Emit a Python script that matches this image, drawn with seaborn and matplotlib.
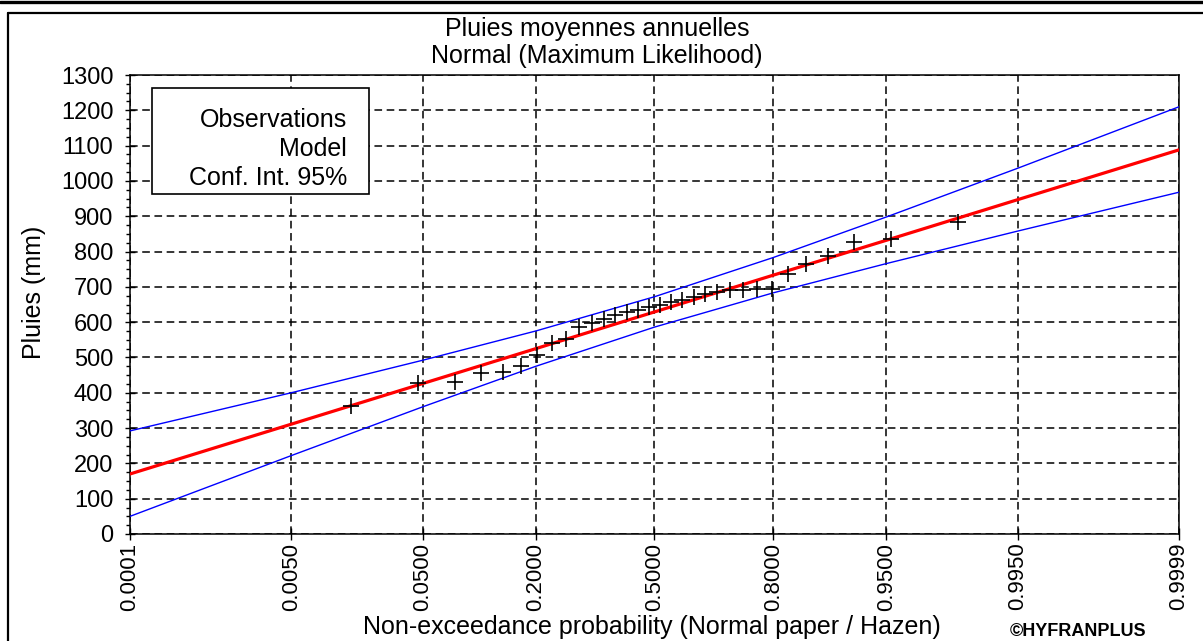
import numpy as np
import matplotlib
matplotlib.use("Agg")
import matplotlib.pyplot as plt
from matplotlib.lines import Line2D
from matplotlib.patches import Rectangle
from matplotlib.ticker import FixedLocator, FixedFormatter, MultipleLocator, NullLocator
import seaborn as sns
from statistics import NormalDist

# ---------------------------------------------------------------- data
# Sorted annual mean rainfall sample (mm)
obs_rain = [362, 427, 431, 455, 458, 475, 508, 540, 553, 587, 597, 610,
            620, 629, 635, 644, 650, 657, 664, 672, 680, 686, 690, 692,
            694, 695, 737, 766, 788, 828, 835, 885]
# Hazen non-exceedance probabilities of the sorted sample (n = 32)
obs_prob = [0.0156, 0.0469, 0.0781, 0.1094, 0.1406, 0.1719, 0.2031, 0.2344,
            0.2656, 0.2969, 0.3281, 0.3594, 0.3906, 0.4219, 0.4531, 0.4844,
            0.5156, 0.5469, 0.5781, 0.6094, 0.6406, 0.6719, 0.7031, 0.7344,
            0.7656, 0.7969, 0.8281, 0.8594, 0.8906, 0.9219, 0.9531, 0.9844]

# Fitted normal quantiles and 95 % confidence bounds (mm)
curve_prob = [0.0001, 0.005, 0.05, 0.2, 0.5, 0.8, 0.95, 0.995, 0.9999]
model_rain = [170, 311, 426, 525, 629, 733, 832, 947, 1088]
upper_rain = [292, 400, 492, 575, 672, 783, 898, 1036, 1210]
lower_rain = [50, 222, 360, 475, 586, 683, 766, 858, 968]

x_ticks = [0.0001, 0.0050, 0.0500, 0.2000, 0.5000, 0.8000, 0.9500, 0.9950, 0.9999]
x_tick_labels = ["0.0001", "0.0050", "0.0500", "0.2000", "0.5000",
                 "0.8000", "0.9500", "0.9950", "0.9999"]
y_ticks = list(range(0, 1301, 100))

title_lines = ["Pluies moyennes annuelles", "Normal (Maximum Likelihood)"]
legend_labels = ["Observations", "Model", "Conf. Int. 95%"]
x_label = "Non-exceedance probability (Normal paper / Hazen)"
y_label = "Pluies (mm)"
credit = "\u00a9HYFRANPLUS"

# ------------------------------------------------- normal probability scale
_nd = NormalDist()


def prob_to_z(p):
    p = np.asarray(p, dtype=float)
    flat = p.ravel()
    out = np.array([_nd.inv_cdf(min(max(v, 1e-12), 1 - 1e-12))
                    if not np.isnan(v) else np.nan for v in flat], dtype=float)
    return out.reshape(p.shape)


def z_to_prob(z):
    z = np.asarray(z, dtype=float)
    flat = z.ravel()
    out = np.array([_nd.cdf(v) if not np.isnan(v) else np.nan for v in flat],
                   dtype=float)
    return out.reshape(z.shape)


# ------------------------------------------------------------- styling
sns.set_theme(style="ticks")
plt.rcParams["font.family"] = ["Liberation Sans", "DejaVu Sans"]
plt.rcParams["text.color"] = "black"
plt.rcParams["axes.labelcolor"] = "black"
plt.rcParams["xtick.color"] = "black"
plt.rcParams["ytick.color"] = "black"

W_PX, H_PX = 1203, 641
fig = plt.figure(figsize=(W_PX / 100, H_PX / 100), dpi=100)
fig.patch.set_facecolor("white")

ax_l, ax_r, ax_t, ax_b = 130, 1179, 75, 534
ax = fig.add_axes([ax_l / W_PX, 1 - ax_b / H_PX,
                   (ax_r - ax_l) / W_PX, (ax_b - ax_t) / H_PX])
ax.set_facecolor("white")

# --------------------------------------------------------------- marks
sns.lineplot(x=curve_prob, y=upper_rain, color="blue", lw=1.0, ax=ax,
             estimator=None, sort=False, zorder=3)
sns.lineplot(x=curve_prob, y=lower_rain, color="blue", lw=1.0, ax=ax,
             estimator=None, sort=False, zorder=3)
sns.lineplot(x=curve_prob, y=model_rain, color="red", lw=2.3, ax=ax,
             estimator=None, sort=False, zorder=3)
sns.scatterplot(x=obs_prob, y=obs_rain, marker="+", color="black", s=120,
                linewidth=1.2, ax=ax, zorder=4)

# ---------------------------------------------------------------- axes
ax.set_xscale("function", functions=(prob_to_z, z_to_prob))
ax.set_xlim(0.0001, 0.9999)
ax.set_ylim(0, 1300)

ax.xaxis.set_major_locator(FixedLocator(x_ticks))
ax.xaxis.set_major_formatter(FixedFormatter(x_tick_labels))
ax.xaxis.set_minor_locator(NullLocator())
ax.yaxis.set_major_locator(FixedLocator(y_ticks))
ax.yaxis.set_minor_locator(MultipleLocator(25))

ax.tick_params(axis="x", which="major", direction="inout", length=8.5,
               width=1.0, pad=2, labelsize=16, labelrotation=90)
ax.tick_params(axis="y", which="major", direction="inout", length=7,
               width=1.0, pad=8.5, labelsize=17)
ax.tick_params(axis="y", which="minor", direction="out", length=3, width=1.0)

ax.set_axisbelow(True)
ax.grid(True, which="major", axis="both", color="black",
        linestyle=(0, (5, 3)), linewidth=1.1)

for side in ["left", "right", "top", "bottom"]:
    ax.spines[side].set_visible(True)
    ax.spines[side].set_color("black")
    ax.spines[side].set_linewidth(1.1)

ax.set_xlabel(x_label, fontsize=18, va="top")
ax.xaxis.set_label_coords(((652 - ax_l) / (ax_r - ax_l)),
                          (ax_b - 615) / (ax_b - ax_t))
ax.set_ylabel(y_label, fontsize=18)
ax.yaxis.set_label_coords((46 - ax_l) / (ax_r - ax_l),
                          (ax_b - 292) / (ax_b - ax_t))

# -------------------------------------------------------------- legend
def ax_x(px):
    return (px - ax_l) / (ax_r - ax_l)


def ax_y(py):
    return (ax_b - py) / (ax_b - ax_t)


ax.add_patch(Rectangle((ax_x(152), ax_y(194)), ax_x(369) - ax_x(152),
                       ax_y(88) - ax_y(194), transform=ax.transAxes,
                       facecolor="white", edgecolor="black", lw=1.2,
                       zorder=5))
for label, base in zip(legend_labels, [127, 156, 185]):
    ax.text(ax_x(347), ax_y(base), label, transform=ax.transAxes,
            ha="right", va="baseline", fontsize=18, zorder=6)

# --------------------------------------------------------------- title
for line, base in zip(title_lines, [36, 63]):
    fig.text(597 / W_PX, 1 - base / H_PX, line, ha="center", va="baseline",
             fontsize=18)

# ---------------------------------------------------------- page frame
fig.add_artist(Line2D([0, 1], [1 - 1.5 / H_PX, 1 - 1.5 / H_PX],
                      transform=fig.transFigure, color="black", lw=2.4))
fig.add_artist(Line2D([8 / W_PX, 1], [1 - 13 / H_PX, 1 - 13 / H_PX],
                      transform=fig.transFigure, color="black", lw=1.6))
fig.add_artist(Line2D([8 / W_PX, 8 / W_PX], [0, 1 - 13 / H_PX],
                      transform=fig.transFigure, color="black", lw=1.6))

fig.text(1010 / W_PX, 1 - 636 / H_PX, credit, ha="left", va="baseline",
         fontsize=13, fontweight="bold")

fig.savefig("out.png", dpi=100)
